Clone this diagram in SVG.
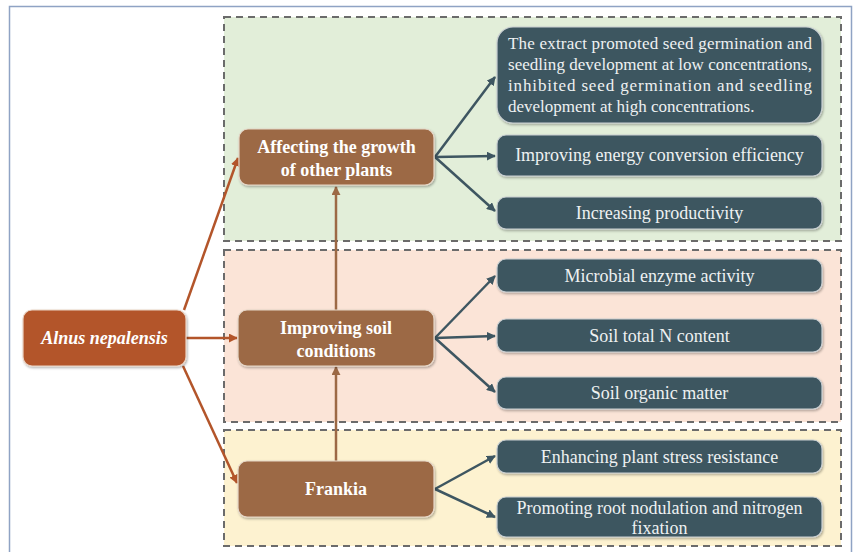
<svg xmlns="http://www.w3.org/2000/svg" width="856" height="552" viewBox="0 0 856 552">
  <style>
    .zone { stroke: #6b6b6b; stroke-width: 2; stroke-dasharray: 7 5; }
    .root { fill: #b3552a; stroke: #e9d3c4; stroke-width: 1.2; filter: url(#shadow); }
    .mid { fill: #9c6945; stroke: #e6d7c8; stroke-width: 1.2; filter: url(#shadow); }
    .leaf { fill: #3e5661; stroke: #c9cfd2; stroke-width: 1.2; filter: url(#shadow); }
    .t { font-family: "Liberation Serif", "Times New Roman", serif; fill: #ffffff; text-anchor: middle; }
    .tb { font-weight: bold; font-size: 18px; }
    .tl { font-size: 18px; fill: #eef1f2; }
    .tx { font-family: "Liberation Serif", "Times New Roman", serif; font-size: 17px; fill: #eef1f2; }
    .a-root { stroke: #b3552a; stroke-width: 2.5; fill: none; marker-end: url(#ah-root); }
    .a-mid { stroke: #9c6945; stroke-width: 2.5; fill: none; marker-end: url(#ah-mid); }
    .a-leaf { stroke: #3e5661; stroke-width: 2.5; fill: none; marker-end: url(#ah-leaf); }
  </style>
  <defs>
    <filter id="shadow" x="-10%" y="-20%" width="120%" height="150%">
      <feDropShadow dx="1" dy="1.5" stdDeviation="1.2" flood-color="#000000" flood-opacity="0.3"/>
    </filter>
    <marker id="ah-root" viewBox="0 0 10 10" refX="9" refY="5" markerWidth="3.6" markerHeight="3.6" orient="auto" markerUnits="strokeWidth">
      <path d="M0,0 L10,5 L0,10 Z" fill="#b3552a"/>
    </marker>
    <marker id="ah-mid" viewBox="0 0 10 10" refX="9" refY="5" markerWidth="3.6" markerHeight="3.6" orient="auto" markerUnits="strokeWidth">
      <path d="M0,0 L10,5 L0,10 Z" fill="#9c6945"/>
    </marker>
    <marker id="ah-leaf" viewBox="0 0 10 10" refX="9" refY="5" markerWidth="3.6" markerHeight="3.6" orient="auto" markerUnits="strokeWidth">
      <path d="M0,0 L10,5 L0,10 Z" fill="#3e5661"/>
    </marker>
  </defs>

  <!-- page -->
  <rect x="0" y="0" width="856" height="552" fill="#ffffff"/>
  <rect x="9.5" y="6.5" width="842" height="570" fill="#ffffff" stroke="#8fa3c4" stroke-width="1.5"/>

  <!-- grouping zones -->
  <g id="zones">
    <rect class="zone" x="224" y="17" width="617" height="224" fill="#e2eed9"/>
    <rect class="zone" x="224" y="250" width="617" height="172" fill="#fbe4d7"/>
    <rect class="zone" x="224" y="430" width="617" height="116" fill="#fdf2d0"/>
  </g>

  <!-- connectors -->
  <g id="connectors">
    <line class="a-root" x1="184" y1="310" x2="238" y2="158"/>
    <line class="a-root" x1="186" y1="338" x2="237" y2="338"/>
    <line class="a-root" x1="183" y1="366" x2="237" y2="483"/>
    <line class="a-mid" x1="336" y1="310" x2="336" y2="187"/>
    <line class="a-mid" x1="336" y1="461" x2="336" y2="367"/>
    <line class="a-leaf" x1="435" y1="157" x2="495" y2="77"/>
    <line class="a-leaf" x1="435" y1="157" x2="495" y2="156"/>
    <line class="a-leaf" x1="435" y1="157" x2="495" y2="211"/>
    <line class="a-leaf" x1="435" y1="338" x2="495" y2="276"/>
    <line class="a-leaf" x1="435" y1="338" x2="495" y2="336"/>
    <line class="a-leaf" x1="435" y1="338" x2="495" y2="392"/>
    <line class="a-leaf" x1="435" y1="489" x2="495" y2="456"/>
    <line class="a-leaf" x1="435" y1="489" x2="495" y2="517"/>
  </g>

  <!-- root -->
  <g id="alnus">
    <rect class="root" x="23" y="310" width="163" height="56" rx="9"/>
    <text class="t tb" x="104.5" y="344" font-style="italic">Alnus nepalensis</text>
  </g>

  <!-- effects -->
  <g id="affecting">
    <rect class="mid" x="239" y="129" width="195" height="56" rx="9"/>
    <text class="t tb" x="336.5" y="153">Affecting the growth</text>
    <text class="t tb" x="336.5" y="176">of other plants</text>
  </g>
  <g id="improving">
    <rect class="mid" x="238" y="310" width="196" height="56" rx="9"/>
    <text class="t tb" x="336" y="334">Improving soil</text>
    <text class="t tb" x="336" y="357">conditions</text>
  </g>
  <g id="frankia">
    <rect class="mid" x="238" y="461" width="196" height="56" rx="9"/>
    <text class="t tb" x="336" y="495">Frankia</text>
  </g>

  <!-- outcomes -->
  <g id="extract">
    <rect class="leaf" x="497" y="27" width="325" height="96" rx="16"/>
    <text class="tx" x="508" y="49" textLength="304" lengthAdjust="spacing">The extract promoted seed germination and</text>
    <text class="tx" x="508" y="70" textLength="304" lengthAdjust="spacing">seedling development at low concentrations,</text>
    <text class="tx" x="508" y="91" textLength="304" lengthAdjust="spacing">inhibited seed germination and seedling</text>
    <text class="tx" x="508" y="112">development at high concentrations.</text>
  </g>
  <g id="energy">
    <rect class="leaf" x="497" y="135" width="325" height="41" rx="9"/>
    <text class="t tl" x="659.5" y="161">Improving energy conversion efficiency</text>
  </g>
  <g id="productivity">
    <rect class="leaf" x="497" y="197" width="325" height="32" rx="9"/>
    <text class="t tl" x="659.5" y="219">Increasing productivity</text>
  </g>
  <g id="enzyme">
    <rect class="leaf" x="497" y="259" width="325" height="33" rx="9"/>
    <text class="t tl" x="659.5" y="282">Microbial enzyme activity</text>
  </g>
  <g id="nitrogen">
    <rect class="leaf" x="497" y="319" width="325" height="33" rx="9"/>
    <text class="t tl" x="659.5" y="342">Soil total N content</text>
  </g>
  <g id="organic">
    <rect class="leaf" x="497" y="377" width="325" height="32" rx="9"/>
    <text class="t tl" x="659.5" y="399">Soil organic matter</text>
  </g>
  <g id="stress">
    <rect class="leaf" x="497" y="440" width="325" height="33" rx="9"/>
    <text class="t tl" x="659.5" y="463">Enhancing plant stress resistance</text>
  </g>
  <g id="nodulation">
    <rect class="leaf" x="497" y="497" width="325" height="40" rx="9"/>
    <text class="t tl" x="659.5" y="514">Promoting root nodulation and nitrogen</text>
    <text class="t tl" x="659.5" y="534">fixation</text>
  </g>
</svg>
